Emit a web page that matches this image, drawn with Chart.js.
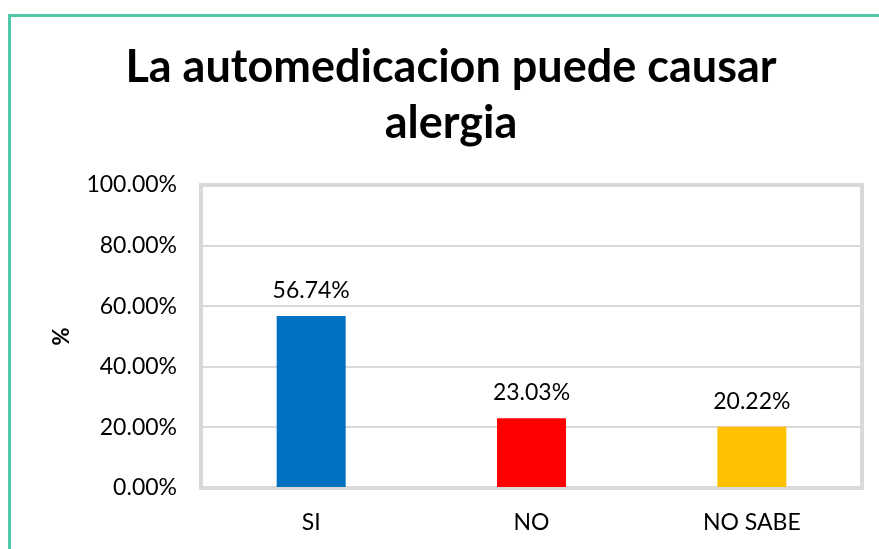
<!DOCTYPE html>
<html>
<head>
<meta charset="utf-8">
<script src="https://cdn.jsdelivr.net/npm/chart.js@4/dist/chart.umd.min.js"></script>
<style>
  html, body { margin: 0; padding: 0; background: #fff; overflow: hidden; width: 879px; height: 549px; }
  #frame { position: absolute; left: 8px; top: 14px; width: 2000px; height: 2000px; border: 3px solid #4EC8A7; box-sizing: border-box; }
  #c { position: absolute; left: 0; top: 0; }
</style>
</head>
<body>
<div id="frame"></div>
<canvas id="c" width="879" height="549"></canvas>
<script>
const categories = ['SI', 'NO', 'NO SABE'];
const values = [56.74, 23.03, 20.22];
const barColors = ['#0070C0', '#FF0000', '#FFC000'];
const titleLines = ['La automedicacion puede causar', 'alergia'];
const yAxisTitle = '%';

const FONT = 'Lato';
const TEXT = '#000000';
const GRID = '#D9D9D9';
const LABEL_SIZE = 23;

const plotBorder = {
  id: 'plotBorder',
  beforeDatasetsDraw(chart) {
    const a = chart.chartArea, ctx = chart.ctx;
    ctx.save();
    ctx.strokeStyle = GRID;
    ctx.lineWidth = 4;
    ctx.strokeRect(a.left, a.top, a.right - a.left, a.bottom - a.top);
    ctx.restore();
  }
};

const valueLabels = {
  id: 'valueLabels',
  afterDatasetsDraw(chart) {
    const ctx = chart.ctx;
    const meta = chart.getDatasetMeta(0);
    ctx.save();
    ctx.font = LABEL_SIZE + 'px ' + FONT;
    ctx.fillStyle = TEXT;
    ctx.textAlign = 'center';
    ctx.textBaseline = 'alphabetic';
    meta.data.forEach((bar, i) => {
      ctx.fillText(values[i].toFixed(2) + '%', bar.x, bar.y - 18);
    });
    ctx.restore();
  }
};

new Chart(document.getElementById('c'), {
  type: 'bar',
  data: {
    labels: categories,
    datasets: [{
      data: values,
      backgroundColor: barColors,
      borderWidth: 0,
      categoryPercentage: 1,
      barPercentage: 0.313
    }]
  },
  options: {
    responsive: false,
    animation: false,
    devicePixelRatio: 1,
    layout: { padding: { top: 20, left: 40, right: 17, bottom: 0 } },
    plugins: {
      legend: { display: false },
      tooltip: { enabled: false },
      title: {
        display: true,
        text: titleLines,
        color: TEXT,
        font: { family: FONT, size: 45, weight: 'bold', lineHeight: 56 / 45 },
        padding: { top: 19, bottom: 34 }
      }
    },
    scales: {
      x: {
        grid: { display: false, drawTicks: false },
        border: { display: false },
        ticks: { color: TEXT, font: { family: FONT, size: LABEL_SIZE }, padding: 21 },
        afterFit(scale) { scale.height = 61; }
      },
      y: {
        min: 0, max: 100,
        grid: { color: GRID, lineWidth: 2, drawTicks: false },
        border: { display: false },
        ticks: {
          stepSize: 20, color: TEXT, padding: 24,
          font: { family: FONT, size: LABEL_SIZE },
          callback: v => v.toFixed(2) + '%'
        },
        title: {
          display: true, text: yAxisTitle, color: TEXT,
          font: { family: FONT, size: 22, weight: 'bold' },
          padding: { top: 9, bottom: 0 }
        },
        afterFit(scale) { scale.width = 161; }
      }
    }
  },
  plugins: [plotBorder, valueLabels]
});
</script>
</body>
</html>
